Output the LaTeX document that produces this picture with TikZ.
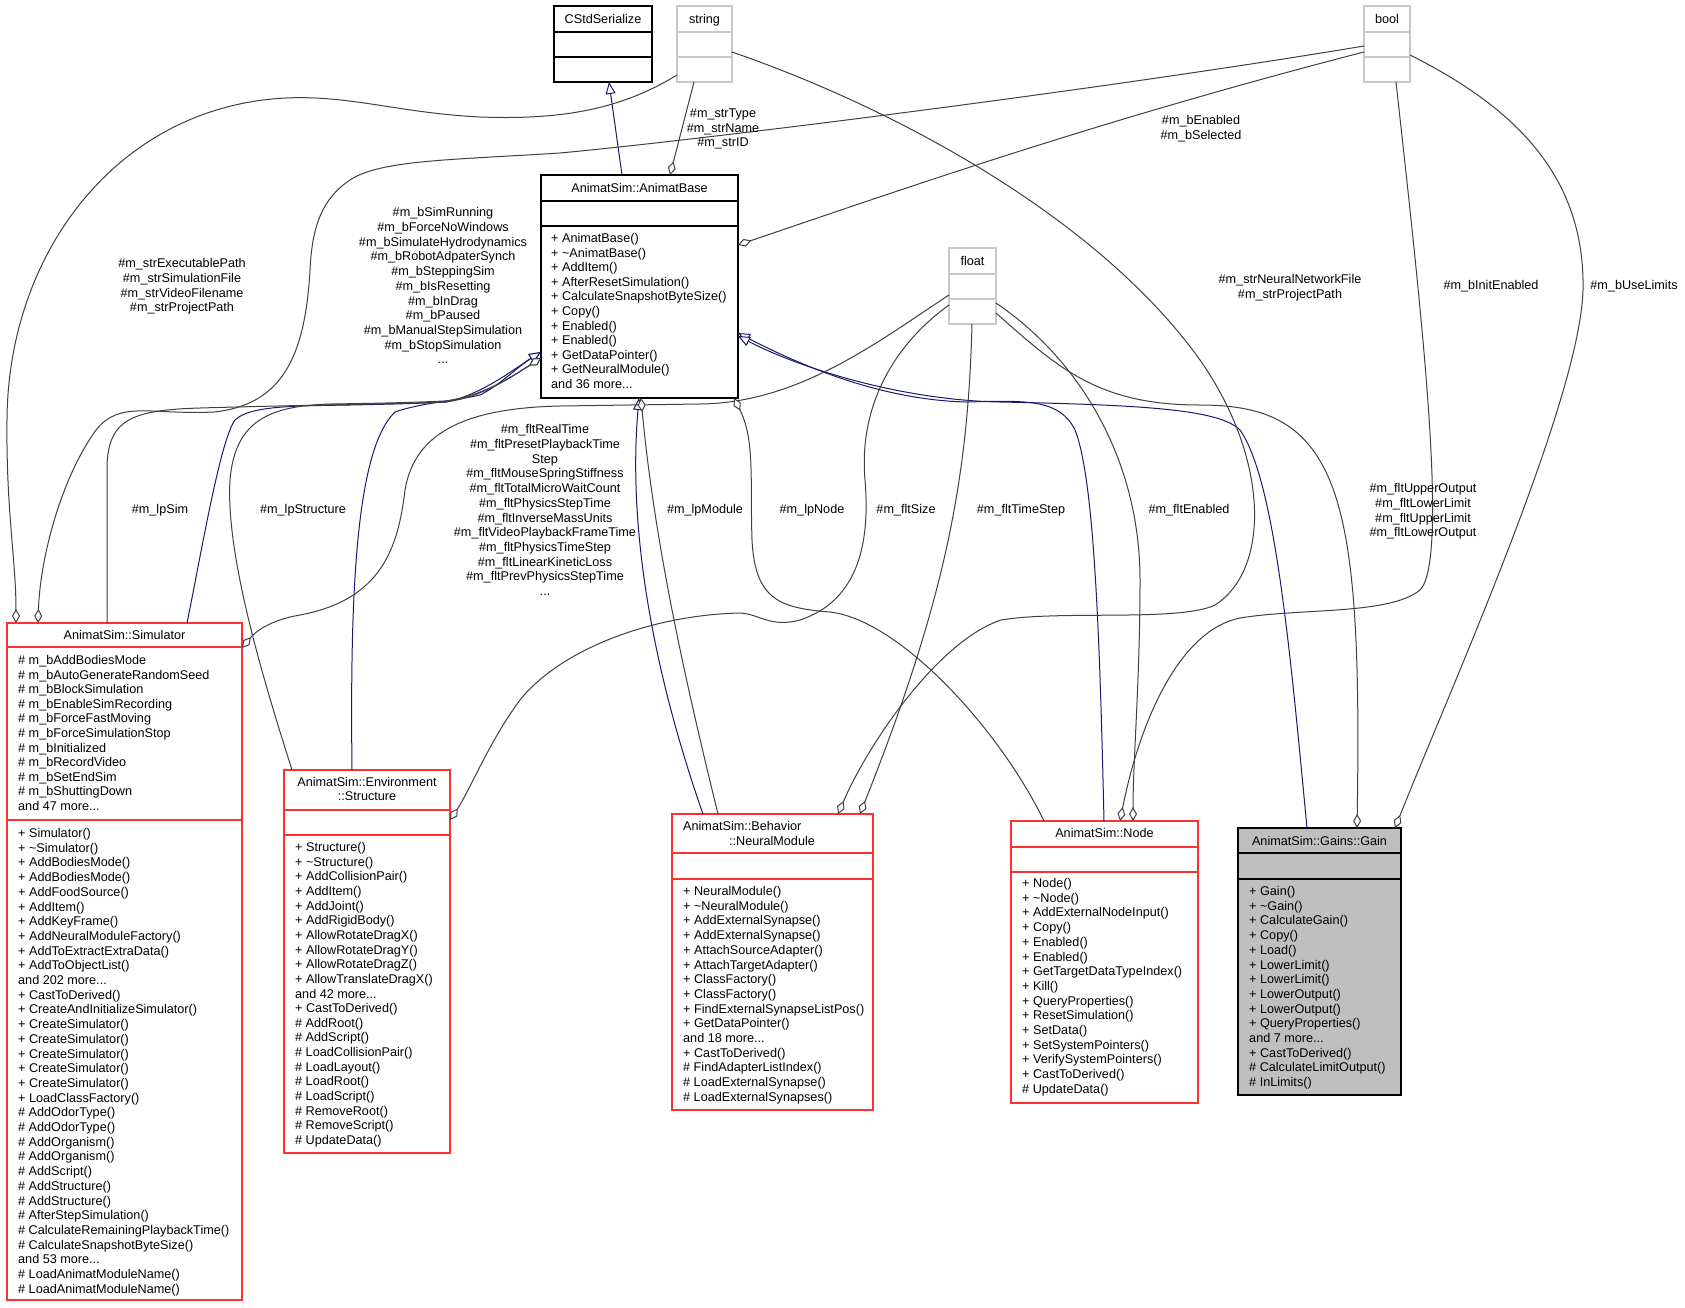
\documentclass[tikz,border=0pt]{standalone}
\usepackage{fontspec}
\setmainfont{Liberation Sans}
\usetikzlibrary{arrows.meta,calc}
\definecolor{edgegray}{HTML}{404040}
\definecolor{navyblue}{HTML}{191970}
\definecolor{boxred}{HTML}{FF3030}
\definecolor{boxgray}{HTML}{C8C8C8}
\definecolor{gainfill}{HTML}{BFBFBF}
\newcommand\dgfont{\fontsize{12.65}{14.7}\selectfont}
\newcommand\tdots{...}
\newcommand\classlines[5]{\foreach \itm [count=\i] in {#5} {\node[mtxt] (#1-\i) at (#2,{#3+(\i-1)*#4}) {\itm};}}
\tikzset{
  lbl/.style={font=\dgfont, inner sep=0, align=center},
  mtxt/.style={font=\dgfont, inner sep=0, anchor=base west},
  htxt/.style={font=\dgfont, inner sep=0, anchor=base},
  boxbase/.style={line width=1.1pt, anchor=north west, inner sep=0, outer sep=0},
  redbox/.style={boxbase, draw=boxred, fill=white},
  graybox/.style={boxbase, draw=boxgray, fill=white},
  blackbox/.style={boxbase, draw=black, fill=white},
  gainbox/.style={boxbase, draw=black, fill=gainfill},
  inh/.style={draw=navyblue, line width=1pt, -{Triangle[open,fill=white,length=12pt,width=10pt]}},
  agg/.style={draw=edgegray, line width=1pt, -{Diamond[open,fill=white,length=14pt,width=8pt]}},
}
\begin{document}
\begin{tikzpicture}[x=1pt,y=-1pt]
\path[fill=white,use as bounding box] (0,0) rectangle (1685,1307);

% ---------- boxes ----------
\node[blackbox, minimum width=98pt, minimum height=76pt] (cstd) at (554,6) {};
\draw[black,line width=1.1pt] ($(cstd.north west)+(0,26)$) -- ($(cstd.north east)+(0,26)$) ($(cstd.north west)+(0,51)$) -- ($(cstd.north east)+(0,51)$);
\node[htxt] (cstd-h) at (603,23.5) {CStdSerialize};

\node[graybox, minimum width=55pt, minimum height=76pt] (str) at (677,6) {};
\draw[boxgray,line width=1.1pt] ($(str.north west)+(0,26)$) -- ($(str.north east)+(0,26)$) ($(str.north west)+(0,51)$) -- ($(str.north east)+(0,51)$);
\node[htxt] (str-h) at (704.5,23.5) {string};

\node[graybox, minimum width=46pt, minimum height=76pt] (bool) at (1364,6) {};
\draw[boxgray,line width=1.1pt] ($(bool.north west)+(0,26)$) -- ($(bool.north east)+(0,26)$) ($(bool.north west)+(0,51)$) -- ($(bool.north east)+(0,51)$);
\node[htxt] (bool-h) at (1387,23.5) {bool};

\node[graybox, minimum width=47pt, minimum height=76pt] (flt) at (949,248) {};
\draw[boxgray,line width=1.1pt] ($(flt.north west)+(0,26)$) -- ($(flt.north east)+(0,26)$) ($(flt.north west)+(0,51)$) -- ($(flt.north east)+(0,51)$);
\node[htxt] (flt-h) at (972.5,265.5) {float};

\node[blackbox, minimum width=197pt, minimum height=223pt] (ab) at (541,175) {};
\draw[black,line width=1.1pt] ($(ab.north west)+(0,26)$) -- ($(ab.north east)+(0,26)$) ($(ab.north west)+(0,51)$) -- ($(ab.north east)+(0,51)$);
\node[htxt] (ab-h) at (639.5,192.5) {AnimatSim::AnimatBase};
\classlines{abm}{551}{242.5}{14.6}{+ AnimatBase(),+ \textasciitilde AnimatBase(),+ AddItem(),+ AfterResetSimulation(),+ CalculateSnapshotByteSize(),+ Copy(),+ Enabled(),+ Enabled(),+ GetDataPointer(),+ GetNeuralModule(),and 36 more\tdots}

\node[redbox, minimum width=235pt, minimum height=677pt] (sim) at (7,623) {};
\draw[boxred,line width=1.1pt] ($(sim.north west)+(0,24)$) -- ($(sim.north east)+(0,24)$) ($(sim.north west)+(0,197)$) -- ($(sim.north east)+(0,197)$);
\node[htxt] (sim-h) at (124.5,639.5) {AnimatSim::Simulator};
\classlines{sima}{18}{664.5}{14.6}{\# m\_bAddBodiesMode,\# m\_bAutoGenerateRandomSeed,\# m\_bBlockSimulation,\# m\_bEnableSimRecording,\# m\_bForceFastMoving,\# m\_bForceSimulationStop,\# m\_bInitialized,\# m\_bRecordVideo,\# m\_bSetEndSim,\# m\_bShuttingDown,and 47 more\tdots}
\classlines{simm}{18}{837.5}{14.7}{+ Simulator(),+ \textasciitilde Simulator(),+ AddBodiesMode(),+ AddBodiesMode(),+ AddFoodSource(),+ AddItem(),+ AddKeyFrame(),+ AddNeuralModuleFactory(),+ AddToExtractExtraData(),+ AddToObjectList(),and 202 more\tdots,+ CastToDerived(),+ CreateAndInitializeSimulator(),+ CreateSimulator(),+ CreateSimulator(),+ CreateSimulator(),+ CreateSimulator(),+ CreateSimulator(),+ LoadClassFactory(),\# AddOdorType(),\# AddOdorType(),\# AddOrganism(),\# AddOrganism(),\# AddScript(),\# AddStructure(),\# AddStructure(),\# AfterStepSimulation(),\# CalculateRemainingPlaybackTime(),\# CalculateSnapshotByteSize(),and 53 more\tdots,\# LoadAnimatModuleName(),\# LoadAnimatModuleName()}

\node[redbox, minimum width=166pt, minimum height=383pt] (stru) at (284,770) {};
\draw[boxred,line width=1.1pt] ($(stru.north west)+(0,40)$) -- ($(stru.north east)+(0,40)$) ($(stru.north west)+(0,65)$) -- ($(stru.north east)+(0,65)$);
\node[htxt] (stru-h1) at (367,786.5) {AnimatSim::Environment};
\node[htxt] (stru-h2) at (367,800.5) {::Structure};
\classlines{strum}{295}{851.5}{14.65}{+ Structure(),+ \textasciitilde Structure(),+ AddCollisionPair(),+ AddItem(),+ AddJoint(),+ AddRigidBody(),+ AllowRotateDragX(),+ AllowRotateDragY(),+ AllowRotateDragZ(),+ AllowTranslateDragX(),and 42 more\tdots,+ CastToDerived(),\# AddRoot(),\# AddScript(),\# LoadCollisionPair(),\# LoadLayout(),\# LoadRoot(),\# LoadScript(),\# RemoveRoot(),\# RemoveScript(),\# UpdateData()}

\node[redbox, minimum width=201pt, minimum height=296pt] (nm) at (672,814) {};
\draw[boxred,line width=1.1pt] ($(nm.north west)+(0,39)$) -- ($(nm.north east)+(0,39)$) ($(nm.north west)+(0,65)$) -- ($(nm.north east)+(0,65)$);
\node[mtxt] (nm-h1) at (683,830.5) {AnimatSim::Behavior};
\node[htxt] (nm-h2) at (772,845.5) {::NeuralModule};
\classlines{nmm}{683}{895.5}{14.7}{+ NeuralModule(),+ \textasciitilde NeuralModule(),+ AddExternalSynapse(),+ AddExternalSynapse(),+ AttachSourceAdapter(),+ AttachTargetAdapter(),+ ClassFactory(),+ ClassFactory(),+ FindExternalSynapseListPos(),+ GetDataPointer(),and 18 more\tdots,+ CastToDerived(),\# FindAdapterListIndex(),\# LoadExternalSynapse(),\# LoadExternalSynapses()}

\node[redbox, minimum width=187pt, minimum height=282pt] (node) at (1011,821) {};
\draw[boxred,line width=1.1pt] ($(node.north west)+(0,26)$) -- ($(node.north east)+(0,26)$) ($(node.north west)+(0,51)$) -- ($(node.north east)+(0,51)$);
\node[htxt] (node-h) at (1104.5,837.5) {AnimatSim::Node};
\classlines{nodem}{1022}{887.5}{14.7}{+ Node(),+ \textasciitilde Node(),+ AddExternalNodeInput(),+ Copy(),+ Enabled(),+ Enabled(),+ GetTargetDataTypeIndex(),+ Kill(),+ QueryProperties(),+ ResetSimulation(),+ SetData(),+ SetSystemPointers(),+ VerifySystemPointers(),+ CastToDerived(),\# UpdateData()}

\node[gainbox, minimum width=163pt, minimum height=267pt] (gain) at (1238,828) {};
\draw[black,line width=1.1pt] ($(gain.north west)+(0,25)$) -- ($(gain.north east)+(0,25)$) ($(gain.north west)+(0,51)$) -- ($(gain.north east)+(0,51)$);
\node[htxt] (gain-h) at (1319.5,845.5) {AnimatSim::Gains::Gain};
\classlines{gainm}{1249}{895.5}{14.7}{+ Gain(),+ \textasciitilde Gain(),+ CalculateGain(),+ Copy(),+ Load(),+ LowerLimit(),+ LowerLimit(),+ LowerOutput(),+ LowerOutput(),+ QueryProperties(),and 7 more\tdots,+ CastToDerived(),\# CalculateLimitOutput(),\# InLimits()}

% ---------- connectors ----------
% inheritance
\draw[inh] ($(ab.north west)+(81,0)$) -- ($(cstd.south west)+(55,0)$);
\draw[inh] ($(nm.north west)+(31,0)$) .. controls (670,720) and (625,560) .. ($(ab.south west)+(98,0)$);
\draw[inh] ($(sim.north west)+(180,0)$) .. controls (200,560) and (220,440) .. (235,420) .. controls (250,405) and (300,406) .. (350,405) .. controls (400,404) and (430,403) .. (446,402) .. controls (480,395) and (510,372) .. ($(ab.south west)+(0,-46)$);
\draw[inh] ($(stru.north west)+(68,0)$) .. controls (350,600) and (355,450) .. (395,412) .. controls (420,403) and (460,400) .. (480,395) .. controls (500,385) and (520,365) .. ($(ab.south west)+(0,-46)$);
\draw[inh] ($(node.north west)+(93,0)$) .. controls (1100,650) and (1095,480) .. (1075,430) .. controls (1060,400) and (1030,400) .. (967,402) .. controls (880,400) and (800,365) .. ($(ab.south east)+(0,-65)$);
\draw[inh] ($(gain.north west)+(69,0)$) .. controls (1290,650) and (1275,480) .. (1240,430) .. controls (1220,410) and (1150,405) .. (1000,402) .. controls (900,400) and (800,368) .. ($(ab.south east)+(0,-62)$);

% aggregation: string
\draw[agg] ($(str.south west)+(17,0)$) -- ($(ab.north west)+(129,0)$);
\draw[agg] ($(str.north west)+(0,69)$) .. controls (620,110) and (560,120) .. (480,117) .. controls (400,113) and (350,95) .. (286,98) .. controls (120,106) and (8,250) .. (7,420) .. controls (6,510) and (16,560) .. ($(sim.north west)+(9,0)$);
\draw[agg] ($(str.north east)+(0,46)$) .. controls (900,110) and (1100,220) .. (1200,360) .. controls (1270,460) and (1270,570) .. (1215,605) .. controls (1180,622) and (1060,610) .. (1001,620) .. controls (940,640) and (870,740) .. ($(nm.north west)+(166,0)$);

% aggregation: bool
\draw[agg] ($(bool.north west)+(0,46)$) .. controls (1100,120) and (900,190) .. ($(ab.north east)+(0,70)$);
\draw[agg] ($(bool.north west)+(0,40)$) .. controls (1100,90) and (700,140) .. (560,153) .. controls (450,160) and (380,160) .. (350,180) .. controls (320,200) and (312,230) .. (310,270) .. controls (305,360) and (280,405) .. (214,412) .. controls (150,415) and (120,400) .. (96,430) .. controls (60,480) and (40,560) .. ($(sim.north west)+(31,0)$);
\draw[agg] ($(bool.south west)+(32,0)$) .. controls (1420,300) and (1450,560) .. (1420,590) .. controls (1390,615) and (1300,608) .. (1240,618) .. controls (1180,630) and (1140,720) .. ($(node.north west)+(109,0)$);
\draw[agg] ($(bool.north east)+(0,49)$) .. controls (1520,110) and (1585,180) .. (1583,290) .. controls (1580,400) and (1450,690) .. ($(gain.north west)+(157,0)$);

% aggregation: float
\draw[agg] ($(flt.north west)+(0,47)$) .. controls (880,340) and (800,403) .. (700,404) -- (560,406) .. controls (470,408) and (415,430) .. (405,490) .. controls (398,550) and (380,600) .. (300,615) .. controls (270,620) and (255,632) .. ($(sim.north east)+(0,25)$);
\draw[agg] ($(flt.north west)+(0,57)$) .. controls (900,340) and (858,400) .. (865,480) .. controls (870,540) and (860,600) .. (800,620) .. controls (770,628) and (760,614) .. (740,613) .. controls (650,615) and (560,650) .. (520,700) .. controls (490,740) and (470,790) .. ($(stru.north east)+(0,50)$);
\draw[agg] ($(flt.south west)+(23,0)$) .. controls (968,480) and (945,600) .. ($(nm.north west)+(188,0)$);
\draw[agg] ($(flt.north east)+(0,55)$) .. controls (1080,360) and (1140,460) .. (1140,580) .. controls (1140,680) and (1133,760) .. ($(node.north west)+(122,0)$);
\draw[agg] ($(flt.north east)+(0,65)$) .. controls (1060,370) and (1100,405) .. (1200,405) .. controls (1260,405) and (1300,420) .. (1325,470) .. controls (1355,530) and (1360,640) .. ($(gain.north west)+(119,0)$);

% aggregation: pointers held by AnimatBase
\draw[agg] ($(sim.north west)+(100,0)$) -- (107,470) .. controls (107,420) and (130,410) .. (200,408) .. controls (300,405) and (400,404) .. (445,402) .. controls (480,398) and (510,378) .. ($(ab.south west)+(0,-40)$);
\draw[agg] ($(stru.north west)+(8,0)$) .. controls (270,700) and (225,560) .. (230,480) .. controls (235,420) and (270,406) .. (330,404) .. controls (400,403) and (420,402) .. (445,401) .. controls (480,397) and (510,378) .. ($(ab.south west)+(0,-40)$);
\draw[agg] ($(nm.north west)+(46,0)$) .. controls (690,700) and (655,550) .. ($(ab.south west)+(100,0)$);
\draw[agg] ($(node.north west)+(33,0)$) .. controls (1000,730) and (900,620) .. (830,612) .. controls (780,608) and (755,600) .. (752,540) .. controls (750,480) and (755,440) .. ($(ab.south west)+(193,0)$);

% ---------- connector labels ----------
\node[lbl, anchor=north] (l-strtype) at (723,108.5) {\#m\_strType\\\#m\_strName\\\#m\_strID};
\node[lbl, anchor=north] (l-strexe) at (182,258.5) {\#m\_strExecutablePath\\\#m\_strSimulationFile\\\#m\_strVideoFilename\\\#m\_strProjectPath};
\node[lbl, anchor=north] (l-bsim) at (443,207.5) {\#m\_bSimRunning\\\#m\_bForceNoWindows\\\#m\_bSimulateHydrodynamics\\\#m\_bRobotAdpaterSynch\\\#m\_bSteppingSim\\\#m\_bIsResetting\\\#m\_bInDrag\\\#m\_bPaused\\\#m\_bManualStepSimulation\\\#m\_bStopSimulation\\...};
\node[lbl, anchor=north] (l-benab) at (1201,115.5) {\#m\_bEnabled\\\#m\_bSelected};
\node[lbl, anchor=north] (l-fltreal) at (545,424.5) {\#m\_fltRealTime\\\#m\_fltPresetPlaybackTime\hspace*{32pt}\\Step\\\#m\_fltMouseSpringStiffness\\\#m\_fltTotalMicroWaitCount\\\#m\_fltPhysicsStepTime\\\#m\_fltInverseMassUnits\\\#m\_fltVideoPlaybackFrameTime\\\#m\_fltPhysicsTimeStep\\\#m\_fltLinearKineticLoss\\\#m\_fltPrevPhysicsStepTime\\...};
\node[lbl, anchor=base] (l-lpsim) at (160,513.5) {\#m\_lpSim};
\node[lbl, anchor=base] (l-lpstru) at (303,513.5) {\#m\_lpStructure};
\node[lbl, anchor=base] (l-lpmod) at (705,513.5) {\#m\_lpModule};
\node[lbl, anchor=base] (l-lpnode) at (812,513.5) {\#m\_lpNode};
\node[lbl, anchor=base] (l-fltsize) at (906,513.5) {\#m\_fltSize};
\node[lbl, anchor=base] (l-fltts) at (1021,513.5) {\#m\_fltTimeStep};
\node[lbl, anchor=base] (l-fltenab) at (1189,513.5) {\#m\_fltEnabled};
\node[lbl, anchor=north] (l-strnn) at (1290,274.5) {\#m\_strNeuralNetworkFile\\\#m\_strProjectPath};
\node[lbl, anchor=base] (l-binit) at (1491,289.5) {\#m\_bInitEnabled};
\node[lbl, anchor=base] (l-buse) at (1634,289.5) {\#m\_bUseLimits};
\node[lbl, anchor=north] (l-fltup) at (1423,483.5) {\#m\_fltUpperOutput\\\#m\_fltLowerLimit\\\#m\_fltUpperLimit\\\#m\_fltLowerOutput};
\end{tikzpicture}
\end{document}
